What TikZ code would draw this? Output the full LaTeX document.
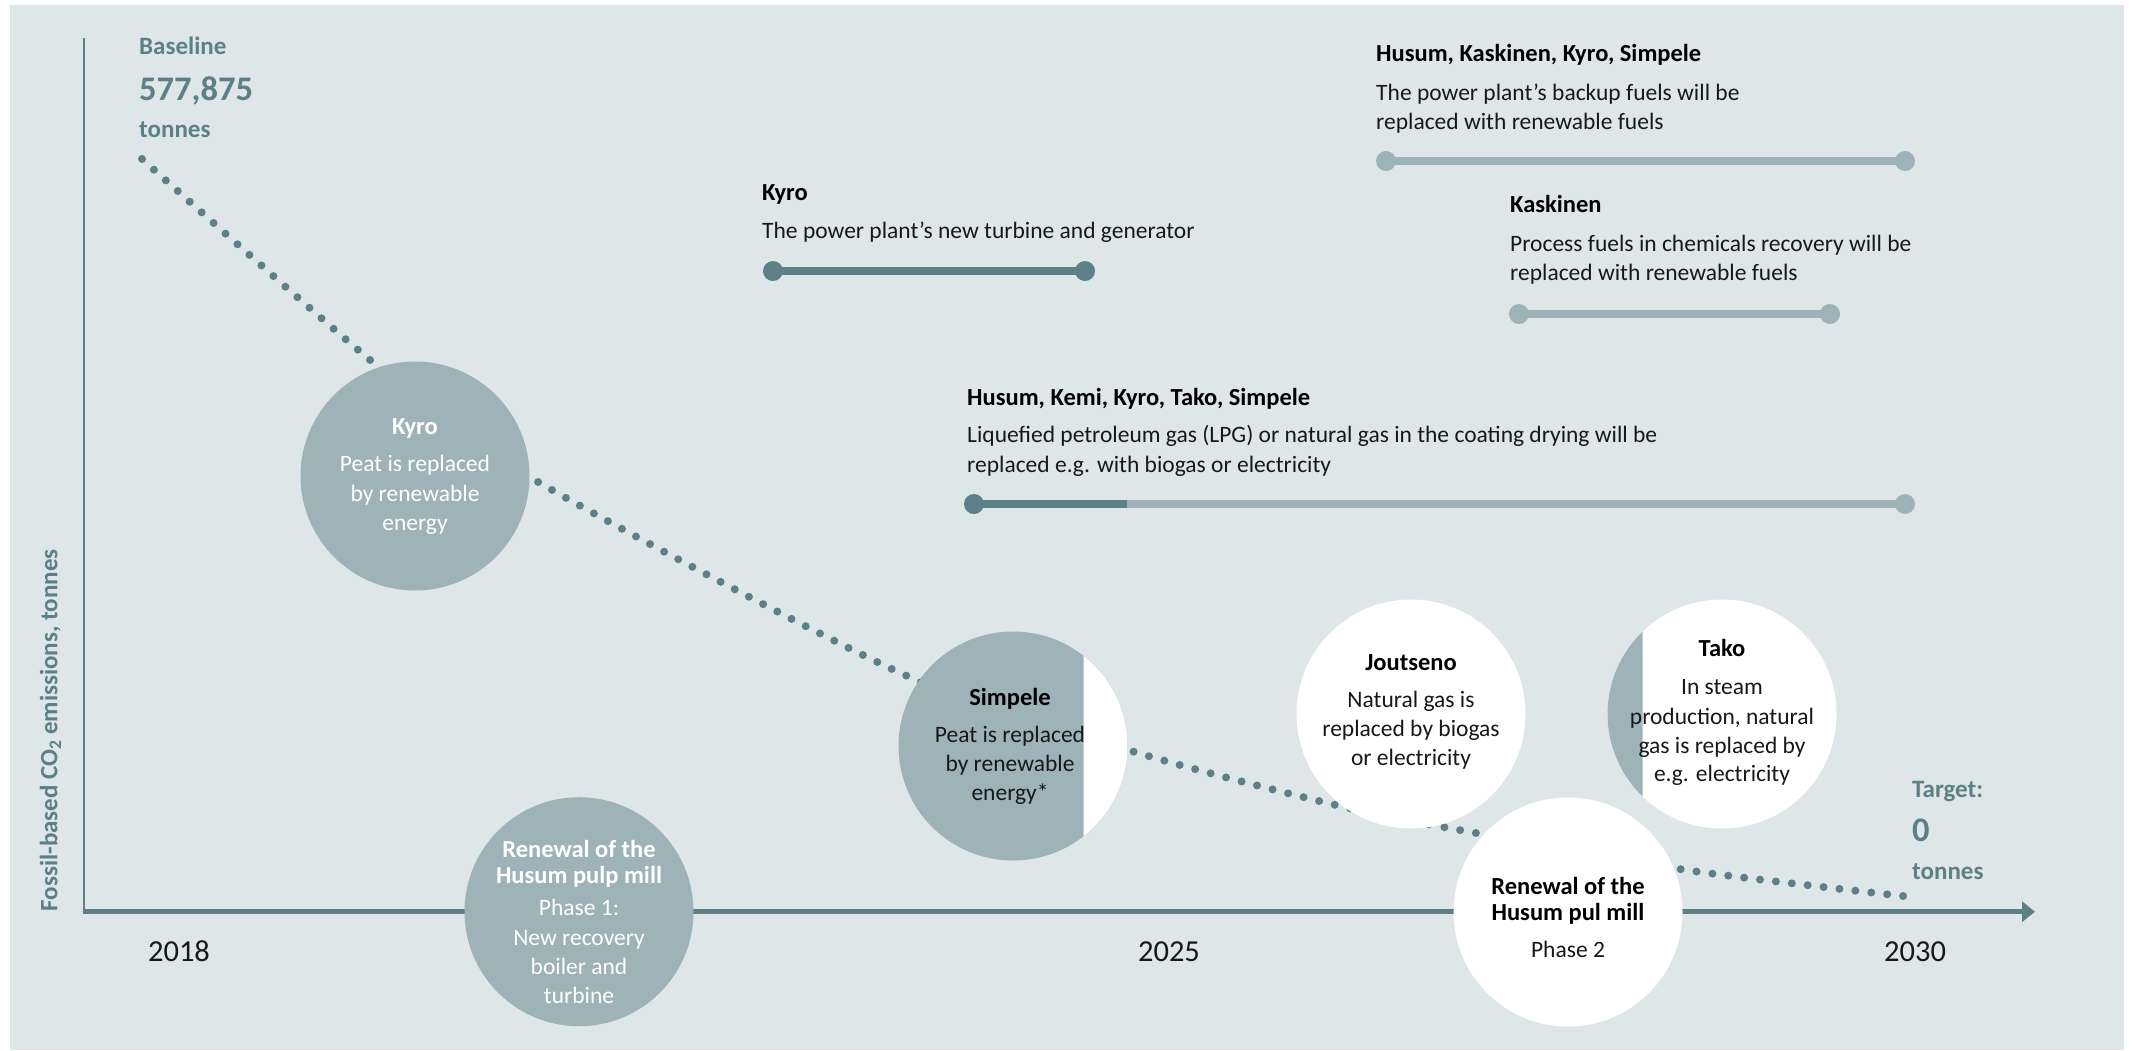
\documentclass[tikz,border=0pt]{standalone}
\usepackage{fontspec}
\setmainfont{Carlito}
\usetikzlibrary{arrows.meta}

\definecolor{panel}{RGB}{223,230,232}
\definecolor{darkteal}{RGB}{91,128,133}
\definecolor{paleteal}{RGB}{157,179,183}
\definecolor{ink}{RGB}{24,24,24}

\tikzset{
  bartext/.style={inner sep=0pt, anchor=base west, text=ink, font=\fontsize{23.5}{28}\selectfont},
  bartitle/.style={bartext, text=black, font=\fontsize{24.5}{28}\selectfont\bfseries},
  circtext/.style={inner sep=0pt, anchor=base, text=ink, font=\fontsize{23.5}{28}\selectfont},
  circtitle/.style={circtext, text=black, font=\fontsize{24.5}{28}\selectfont\bfseries},
  tealtext/.style={inner sep=0pt, anchor=base west, text=darkteal, font=\fontsize{25}{30}\selectfont\bfseries},
  tealnum/.style={tealtext, font=\fontsize{34.5}{40}\selectfont\bfseries},
  yearlabel/.style={inner sep=0pt, anchor=base, text=ink, font=\fontsize{30.5}{34}\selectfont},
  disc/.style={circle, minimum size=229pt, inner sep=0pt, outer sep=0pt},
  bar/.style={line width=7.5pt},
  dotline/.style={darkteal, line width=8pt, line cap=round, dash pattern=on 0pt off 16pt},
}

\begin{document}
\begin{tikzpicture}[x=1pt,y=-1pt]
	\useasboundingbox (0,0) rectangle (2132,1050);
	\fill[white] (0,0) rectangle (2132,1050);
	\fill[panel] (10,5) rectangle (2124,1050);

	% emission path
	\coordinate (base0) at (142,159);
	\coordinate (goal) at (1912,897);
	\draw[dotline] plot[smooth] coordinates {(base0) (375,364) (533,479) (907,676) (1138,753) (1344,807) (1476,833) (1686,870) (goal)};

	% axes
	\coordinate (origin) at (82.75,911.7);
	\coordinate (ytop) at (84,37.5);
	\coordinate (ybot) at (84,911.7);
	\coordinate (xend) at (2035,911.7);
	\draw[darkteal, line width=2.5pt] (ytop) -- (ybot);
	\draw[darkteal, line width=5pt, -{Triangle[length=13pt,width=20pt]}] (origin) -- (xend);

	\node[tealtext, rotate=90] (ylab) at (57.3,911.7) {Fossil-based CO\textsubscript{2} emissions, tonnes};

	\node[yearlabel] (y2018) at (179,961.7) {2018};
	\node[yearlabel] (y2025) at (1169,961.7) {2025};
	\node[yearlabel] (y2030) at (1915,961.7) {2030};

	% circles
	\node[disc, fill=paleteal] (kyro) at (415,476) {};
	\node[disc, fill=paleteal] (phase1) at (579,911.7) {};
	\node[disc, fill=paleteal] (simpele) at (1013,746) {};
	\begin{scope}
		\clip (1083.7,600) rectangle (1140,900);
		\fill[white] (simpele) circle[radius=114.5pt];
	\end{scope}
	\node[disc, fill=white] (joutseno) at (1411,714) {};
	\node[disc, fill=white] (tako) at (1722,714) {};
	\begin{scope}
		\clip (1600,590) rectangle (1642.7,840);
		\fill[paleteal] (tako) circle[radius=114.5pt];
	\end{scope}
	\node[disc, fill=white] (phase2) at (1568,912) {};

	\node[circtitle, text=white] (kyroA) at (415,434) {Kyro};
	\node[circtext, text=white] (kyroB) at (415,471) {Peat is replaced};
	\node[circtext, text=white] (kyroC) at (415,501) {by renewable};
	\node[circtext, text=white] (kyroD) at (415,530) {energy};

	\node[circtitle, text=white] (ph1A) at (579,857) {Renewal of the};
	\node[circtitle, text=white] (ph1B) at (579,883) {Husum pulp mill};
	\node[circtext, text=white] (ph1C) at (579,915) {Phase 1:};
	\node[circtext, text=white] (ph1D) at (579,945) {New recovery};
	\node[circtext, text=white] (ph1E) at (579,974) {boiler and};
	\node[circtext, text=white] (ph1F) at (579,1003) {turbine};

	\node[circtitle] (simA) at (1010,705) {Simpele};
	\node[circtext] (simB) at (1010,742) {Peat is replaced};
	\node[circtext] (simC) at (1010,771) {by renewable};
	\node[circtext] (simD) at (1010,800) {energy*};

	\node[circtitle] (jouA) at (1411,670) {Joutseno};
	\node[circtext] (jouB) at (1411,707) {Natural gas is};
	\node[circtext] (jouC) at (1411,736) {replaced by biogas};
	\node[circtext] (jouD) at (1411,765) {or electricity};

	\node[circtitle] (takA) at (1722,656) {Tako};
	\node[circtext] (takB) at (1722,694) {In steam};
	\node[circtext] (takC) at (1722,724) {production, natural};
	\node[circtext] (takD) at (1722,753) {gas is replaced by};
	\node[circtext] (takE) at (1722,781) {e.g. electricity};

	\node[circtitle] (ph2A) at (1568,894) {Renewal of the};
	\node[circtitle] (ph2B) at (1568,920) {Husum pul mill};
	\node[circtext] (ph2C) at (1568,957) {Phase 2};

	% baseline and target
	\node[tealtext] (baseT) at (139,54.3) {Baseline};
	\node[tealnum] (baseN) at (139,100) {577,875};
	\node[tealtext] (baseU) at (139,137.3) {tonnes};
	\node[tealtext] (goalT) at (1912,797.3) {Target:};
	\node[tealnum] (goalN) at (1912,841.7) {0};
	\node[tealtext] (goalU) at (1912,879) {tonnes};

	% time bars
	\node[bartitle] (backT) at (1376,61.5) {Husum, Kaskinen, Kyro, Simpele};
	\node[bartext] (backA) at (1376,100) {The power plant’s backup fuels will be};
	\node[bartext] (backB) at (1376,129) {replaced with renewable fuels};
	\coordinate (back1) at (1386,161);
	\coordinate (back2) at (1905,161);
	\draw[bar, paleteal] (back1) -- (back2);
	\fill[paleteal] (back1) circle[radius=10pt] (back2) circle[radius=10pt];

	\node[bartitle] (turbT) at (762,200) {Kyro};
	\node[bartext] (turbA) at (762,238.6) {The power plant’s new turbine and generator};
	\coordinate (turb1) at (773,271);
	\coordinate (turb2) at (1085,271);
	\draw[bar, darkteal] (turb1) -- (turb2);
	\fill[darkteal] (turb1) circle[radius=10pt] (turb2) circle[radius=10pt];

	\node[bartitle] (kaskT) at (1510,212) {Kaskinen};
	\node[bartext] (kaskA) at (1510,251) {Process fuels in chemicals recovery will be};
	\node[bartext] (kaskB) at (1510,280) {replaced with renewable fuels};
	\coordinate (kask1) at (1519,314);
	\coordinate (kask2) at (1830,314);
	\draw[bar, paleteal] (kask1) -- (kask2);
	\fill[paleteal] (kask1) circle[radius=10pt] (kask2) circle[radius=10pt];

	\node[bartitle] (lpgT) at (967,405) {Husum, Kemi, Kyro, Tako, Simpele};
	\node[bartext] (lpgA) at (967,442) {Liquefied petroleum gas (LPG) or natural gas in the coating drying will be};
	\node[bartext] (lpgB) at (967,472) {replaced e.g. with biogas or electricity};
	\coordinate (lpg1) at (974,504);
	\coordinate (lpg2) at (1127,504);
	\coordinate (lpg3) at (1905,504);
	\draw[bar, paleteal] (lpg2) -- (lpg3);
	\draw[bar, darkteal] (lpg1) -- (lpg2);
	\fill[darkteal] (lpg1) circle[radius=10pt];
	\fill[paleteal] (lpg3) circle[radius=10pt];
\end{tikzpicture}
\end{document}
